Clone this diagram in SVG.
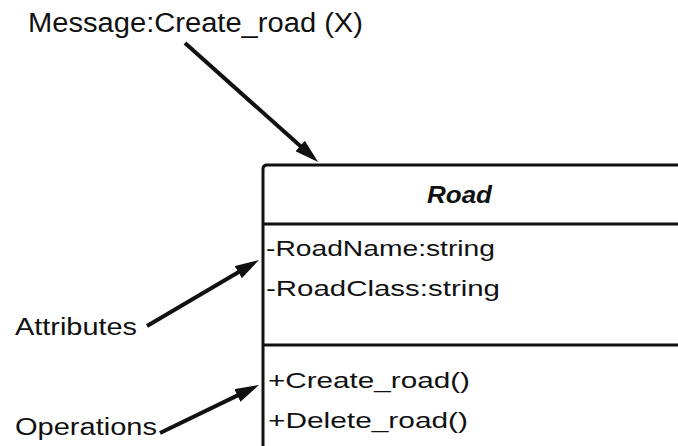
<svg xmlns="http://www.w3.org/2000/svg" width="678" height="446" viewBox="0 0 678 446">
  <style>
    text { font-family: "Liberation Sans", Arial, sans-serif; fill: #111; }
    .lbl { font-size: 23px; }
    .msg { font-size: 27px; }
    .mem { font-size: 22px; }
    .title { font-size: 23px; font-weight: bold; font-style: italic; }
    .box { fill: #fff; stroke: #111; stroke-width: 3; }
    .div { stroke: #111; stroke-width: 3; fill: none; }
    .conn { stroke: #111; stroke-width: 4; fill: none; marker-end: url(#head); }
  </style>
  <defs>
    <marker id="head" viewBox="0 0 24 14" refX="2" refY="7" markerWidth="24" markerHeight="14" markerUnits="userSpaceOnUse" orient="auto">
      <path d="M0,0 L24,7 L0,14 z" fill="#111"/>
    </marker>
  </defs>
  <rect width="678" height="446" fill="#fff"/>

  <g id="road-class">
    <path class="box" d="M263,450 L263,169 Q263,165 267,165 L682,165 L682,450"/>
    <line class="div" x1="263" y1="224" x2="682" y2="224"/>
    <line class="div" x1="263" y1="345" x2="682" y2="345"/>
    <text class="title" x="427" y="203" textLength="65" lengthAdjust="spacingAndGlyphs">Road</text>
    <text class="mem" x="266" y="256" textLength="229" lengthAdjust="spacingAndGlyphs">-RoadName:string</text>
    <text class="mem" x="266" y="296" textLength="234" lengthAdjust="spacingAndGlyphs">-RoadClass:string</text>
    <text class="mem" x="268" y="388" textLength="202" lengthAdjust="spacingAndGlyphs">+Create_road()</text>
    <text class="mem" x="268" y="428" textLength="200" lengthAdjust="spacingAndGlyphs">+Delete_road()</text>
  </g>

  <g id="message-label">
    <text class="msg" x="28" y="32" textLength="335" lengthAdjust="spacingAndGlyphs">Message:Create_road (X)</text>
  </g>
  <g id="attributes-label">
    <text class="lbl" x="15" y="335" textLength="122" lengthAdjust="spacingAndGlyphs">Attributes</text>
  </g>
  <g id="operations-label">
    <text class="lbl" x="15" y="435" textLength="142" lengthAdjust="spacingAndGlyphs">Operations</text>
  </g>

  <g id="connectors">
    <line class="conn" x1="185" y1="43" x2="301.7" y2="147.3"/>
    <line class="conn" x1="147" y1="326" x2="240" y2="271.2"/>
    <line class="conn" x1="160" y1="433" x2="239.2" y2="394.6"/>
  </g>
</svg>
